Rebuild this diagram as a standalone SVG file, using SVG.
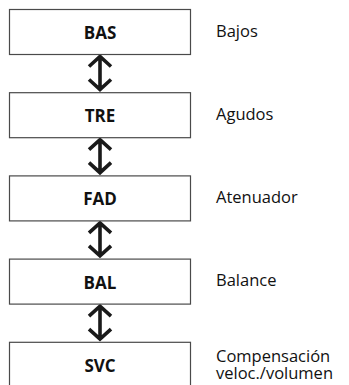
<svg xmlns="http://www.w3.org/2000/svg" width="349" height="385" viewBox="0 0 349 385">
<style>
.box{fill:#fff;stroke:#4a4a4a;stroke-width:1.2}
.nt{font-family:"Open Sans","DejaVu Sans",sans-serif;font-weight:bold;font-size:17px;fill:#111;text-anchor:middle}
.lb{font-family:"Open Sans","DejaVu Sans",sans-serif;font-size:16.5px;fill:#111}
.ar{fill:none;stroke:#1a1a1a;stroke-width:3.6;stroke-linecap:butt;stroke-linejoin:miter}
</style>
<rect width="349" height="385" fill="#fff"/>
<g id="connectors">
<path class="ar" d="M100 56V90M89 66.5L100 56.5L111 66.5M89 79.5L100 89.5L111 79.5"/>
<path class="ar" d="M100 139.2V173.2M89 149.7L100 139.7L111 149.7M89 162.7L100 172.7L111 162.7"/>
<path class="ar" d="M100 222.4V256.4M89 232.9L100 222.9L111 232.9M89 245.9L100 255.9L111 245.9"/>
<path class="ar" d="M100 305.6V339.6M89 316.1L100 306.1L111 316.1M89 329.1L100 339.1L111 329.1"/>
</g>
<g id="bas"><rect class="box" x="9.5" y="9.5" width="181" height="45"/><text class="nt" x="100" y="39">BAS</text></g>
<g id="tre"><rect class="box" x="9.5" y="92.7" width="181" height="45"/><text class="nt" x="100" y="122.2">TRE</text></g>
<g id="fad"><rect class="box" x="9.5" y="175.9" width="181" height="45"/><text class="nt" x="100" y="205.4">FAD</text></g>
<g id="bal"><rect class="box" x="9.5" y="259.1" width="181" height="45"/><text class="nt" x="100" y="288.6">BAL</text></g>
<g id="svc"><rect class="box" x="9.5" y="342.3" width="181" height="50"/><text class="nt" x="100" y="371.8">SVC</text></g>
<g id="labels">
<text class="lb" x="216" y="36.7">Bajos</text>
<text class="lb" x="216" y="119.9">Agudos</text>
<text class="lb" x="216" y="203.1">Atenuador</text>
<text class="lb" x="216" y="286.3">Balance</text>
<text class="lb" x="216" y="361.5">Compensación</text>
<text class="lb" x="216" y="378.5">veloc./volumen</text>
</g>
</svg>
